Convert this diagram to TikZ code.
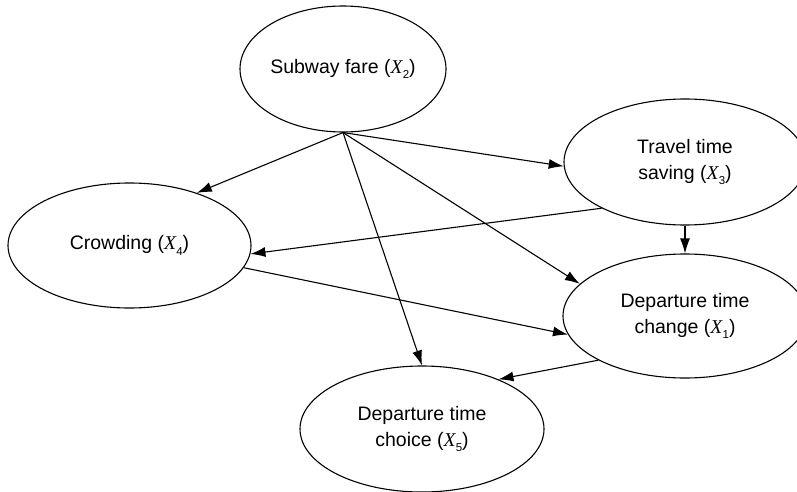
\documentclass[tikz,border=0pt]{standalone}
\usepackage{fontspec}
\setmainfont{Liberation Sans}
\newfontfamily\xfont{Liberation Serif}
\usetikzlibrary{shapes.geometric,arrows.meta}
\newcommand\xv[1]{{\xfont\itshape X}\kern0.3pt\raisebox{-0.5ex}{\fontsize{11.5}{11.5}\selectfont #1}}
\begin{document}
\begin{tikzpicture}[x=1pt,y=-1pt,
  var/.style={ellipse,draw,line width=1.1pt,align=center,inner sep=0pt,
    font=\fontsize{19.5}{26}\selectfont},
  arr/.style={-{Latex[length=15pt,width=10pt]},line width=1.1pt}]
\useasboundingbox (0,0) rectangle (797,492);
\clip (0,0) rectangle (797,492);
\node[var,minimum width=206pt,minimum height=126pt] (sf) at (343,69) {Subway fare (\xv{2})};
\node[var,minimum width=242pt,minimum height=126pt] (ts) at (685,162) {Travel time\\saving (\xv{3})};
\node[var,minimum width=243pt,minimum height=125pt] (cr) at (129.5,245.5) {Crowding (\xv{4})};
\node[var,minimum width=244pt,minimum height=124pt] (dc) at (685,316) {Departure time\\change (\xv{1})};
\node[var,minimum width=244pt,minimum height=126pt] (dt) at (422,429) {Departure time\\choice (\xv{5})};
\draw[arr] (sf.south) -- (cr.38);
\draw[arr] (sf.south) -- (ts.182);
\draw[arr] (sf.south) -- (dc.163.5);
\draw[arr] (sf.south) -- (dt.north);
\draw[arr] (ts.209) -- (cr.-4);
\draw[arr] (ts.south) -- (dc.north);
\draw[arr] (cr.-11) -- (dc.189);
\draw[arr] (dc.207) -- (dt.33);
\end{tikzpicture}
\end{document}
